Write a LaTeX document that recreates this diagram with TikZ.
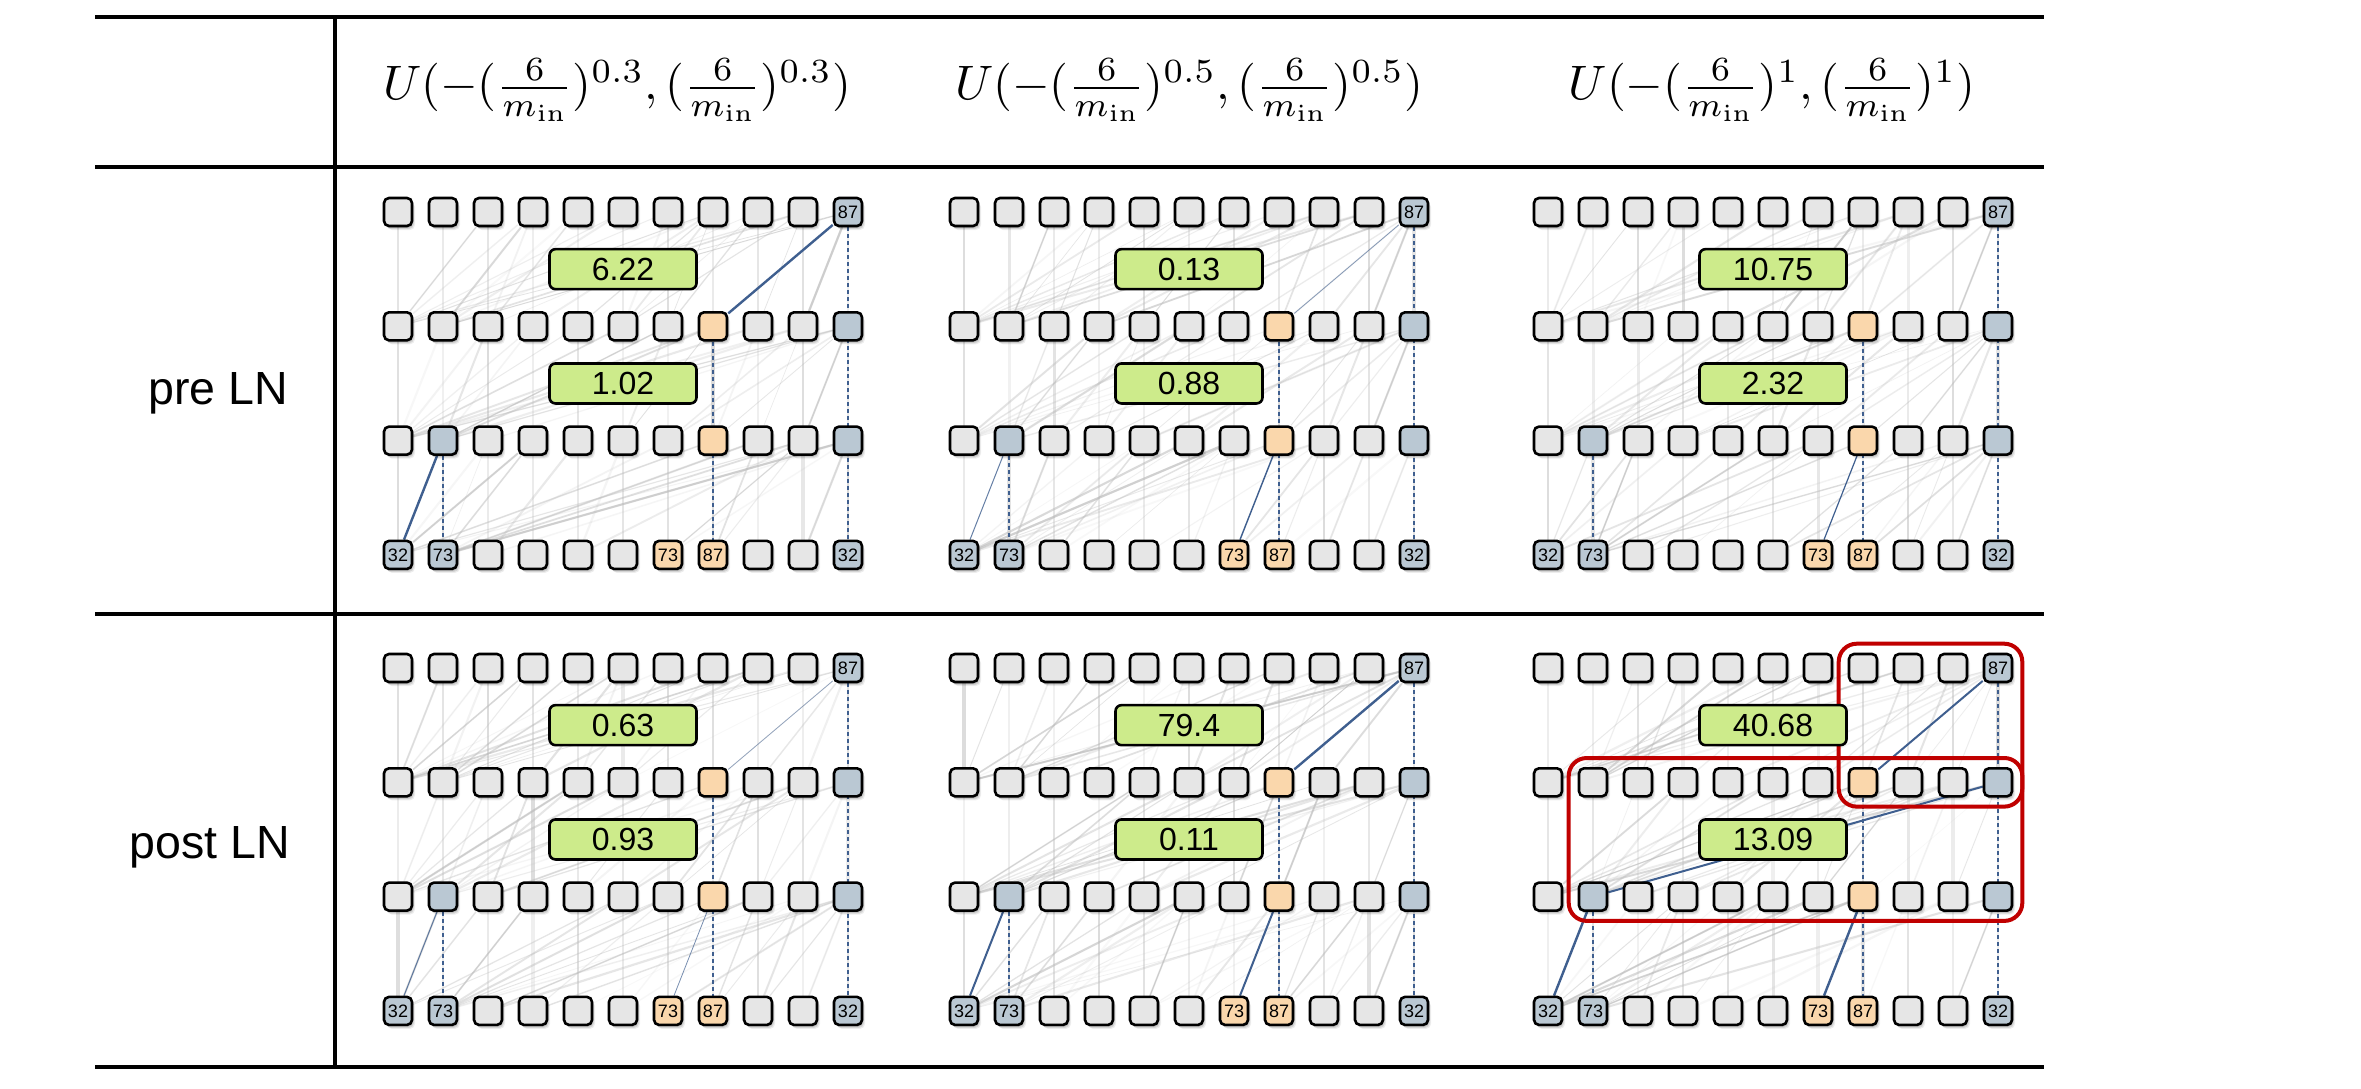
\documentclass[tikz,border=0pt]{standalone}
\usepackage[no-math]{fontspec}
\newfontfamily\arial{Liberation Sans}
\usetikzlibrary{shadows,fit}
\pgfdeclarelayer{paper}
\pgfdeclarelayer{lines}
\pgfdeclarelayer{hilite}
\pgfsetlayers{paper,lines,hilite,main}
\definecolor{sqgray}{HTML}{E6E6E6}
\definecolor{sqblue}{HTML}{BAC8D3}
\definecolor{sqorange}{HTML}{FAD7AC}
\definecolor{boxgreen}{HTML}{CDEB8B}
\definecolor{hiblue}{HTML}{3F5F8F}
\definecolor{redline}{HTML}{C00000}
\begin{document}
\begin{tikzpicture}[x=1pt,y=-1pt,
  tabline/.style={draw=black,line width=4.5pt},
  sqbase/.style={draw=black,line width=2.6pt,rounded corners=5pt,minimum size=28pt,inner sep=0pt,
    font=\arial\fontsize{18}{18}\selectfont,
    drop shadow={shadow xshift=3pt,shadow yshift=-4pt,opacity=0.07,fill=black},
    drop shadow={shadow xshift=2pt,shadow yshift=-3pt,opacity=0.10,fill=black},
    drop shadow={shadow xshift=1pt,shadow yshift=-2pt,opacity=0.12,fill=black}},
  gbox/.style={draw=black,line width=2.6pt,rounded corners=6pt,fill=boxgreen,minimum width=147pt,
    minimum height=40pt,inner sep=0pt,font=\arial\fontsize{32}{32}\selectfont},
  faint/.style={draw=black!26,line cap=round},
  hidash/.style={draw=hiblue,line width=1.5pt,dash pattern=on 4pt off 3pt},
  redbox/.style={draw=redline,line width=4pt,rounded corners=18pt,inner sep=9pt},
  rowlab/.style={font=\arial\fontsize{46.5}{46.5}\selectfont,inner sep=0pt,anchor=base east},
  headtxt/.style={inner sep=0pt}]
\begin{pgfonlayer}{paper}
\fill[white] (0,0) rectangle (2361,1088);
\end{pgfonlayer}
\useasboundingbox (0,0) rectangle (2361,1088);

% table rules
\draw[tabline] (95,17) -- (2044,17);
\draw[tabline] (95,167) -- (2044,167);
\draw[tabline] (95,614) -- (2044,614);
\draw[tabline] (95,1067) -- (2044,1067);
\draw[tabline] (335,17) -- (335,1067);

% headers
\node[headtxt] (h1) at (617,90) {\scalebox{4.84}{$U(-(\frac{6}{m_{\mathrm{in}}})^{0.3},(\frac{6}{m_{\mathrm{in}}})^{0.3})$}};
\node[headtxt] (h2) at (1189,90) {\scalebox{4.84}{$U(-(\frac{6}{m_{\mathrm{in}}})^{0.5},(\frac{6}{m_{\mathrm{in}}})^{0.5})$}};
\node[headtxt] (h3) at (1772,90) {\scalebox{4.84}{$U(-(\frac{6}{m_{\mathrm{in}}})^{1},(\frac{6}{m_{\mathrm{in}}})^{1})$}};

% row labels
\node[rowlab] (l1) at (288,404) {pre LN};
\node[rowlab] (l2) at (290,858) {post LN};

% squares
\foreach \P/\X/\Y in {A/398/212,B/964/212,C/1548/212,D/398/668,E/964/668,F/1548/668}{
 \foreach \r in {0,...,3}{
  \foreach \i in {0,...,10}{
    \def\fc{sqgray}\def\lab{}%
    \ifcase\r\relax
      \ifnum\i=10\relax\def\fc{sqblue}\def\lab{87}\fi
    \or
      \ifnum\i=10\relax\def\fc{sqblue}\fi
      \ifnum\i=7\relax\def\fc{sqorange}\fi
    \or
      \ifnum\i=10\relax\def\fc{sqblue}\fi
      \ifnum\i=1\relax\def\fc{sqblue}\fi
      \ifnum\i=7\relax\def\fc{sqorange}\fi
    \or
      \ifcase\i\relax\def\fc{sqblue}\def\lab{32}\or\def\fc{sqblue}\def\lab{73}\or\or\or\or\or\def\fc{sqorange}\def\lab{73}\or\def\fc{sqorange}\def\lab{87}\or\or\or\def\fc{sqblue}\def\lab{32}\fi
    \fi
    \node[sqbase,fill=\fc] (\P-\r-\i) at (\X+45*\i,\Y+114.3*\r) {\lab};
  }}}

% faint attention lines
\begin{pgfonlayer}{lines}
\pgfmathsetseed{31}
\foreach \P in {A,B,C,D,E,F}{
 \foreach \g in {0,1,2}{
  \pgfmathtruncatemacro\lo{\g+1}
  \foreach \i in {0,...,10}{
   \pgfmathsetmacro\op{0.2+0.35*rnd}
   \pgfmathsetmacro\lw{1.6+1.6*rnd}
   \draw[faint,line width=\lw pt,opacity=\op] (\P-\lo-\i) -- (\P-\g-\i);
  }
  \foreach \k in {1,...,34}{
   \pgfmathtruncatemacro\ta{rnd<0.4 ? random(0,1) : random(0,9)}
   \pgfmathtruncatemacro\tb{random(\ta+1,10)}
   \pgfmathsetmacro\op{0.1+0.35*rnd}
   \pgfmathsetmacro\lw{0.6+1.6*rnd}
   \draw[faint,line width=\lw pt,opacity=\op] (\P-\lo-\ta) -- (\P-\g-\tb);
  }
 }
}
\end{pgfonlayer}

% highlighted paths
\begin{pgfonlayer}{hilite}
\foreach \P in {A,B,C,D,E,F}{
  \draw[hidash] (\P-0-10) -- (\P-3-10);
  \draw[hidash] (\P-1-7) -- (\P-3-7);
  \draw[hidash] (\P-2-1) -- (\P-3-1);
}
\foreach \P/\u/\v/\w/\o in {A/0-10/1-7/2.4/1, A/3-0/2-1/2.4/1,
   B/0-10/1-7/0.8/0.6, B/3-0/2-1/1/0.8, B/3-6/2-7/1.4/1,
   C/3-6/2-7/1.2/1,
   D/0-10/1-7/0.8/0.5, D/3-0/2-1/1/0.8, D/3-6/2-7/0.8/0.7,
   E/0-10/1-7/2.4/1, E/3-0/2-1/2/1, E/3-6/2-7/2/1,
   F/0-10/1-7/2/1, F/1-10/2-1/2/1, F/3-0/2-1/2.4/1, F/3-6/2-7/2.4/1}{
  \draw[hiblue,line width=\w pt,opacity=\o] (\P-\u) -- (\P-\v);
}
\end{pgfonlayer}

% red highlight boxes
\node[redbox,fit=(F-0-7)(F-1-10)] (r1) {};
\node[redbox,fit=(F-1-1)(F-2-10)] (r2) {};

% value boxes
\foreach \P/\X/\Y/\va/\vb in {A/398/212/6.22/1.02, B/964/212/0.13/0.88, C/1548/212/10.75/2.32,
   D/398/668/0.63/0.93, E/964/668/79.4/0.11, F/1548/668/40.68/13.09}{
  \node[gbox] (\P-v1) at (\X+225,\Y+57.15) {\va};
  \node[gbox] (\P-v2) at (\X+225,\Y+171.45) {\vb};
}
\end{tikzpicture}
\end{document}
